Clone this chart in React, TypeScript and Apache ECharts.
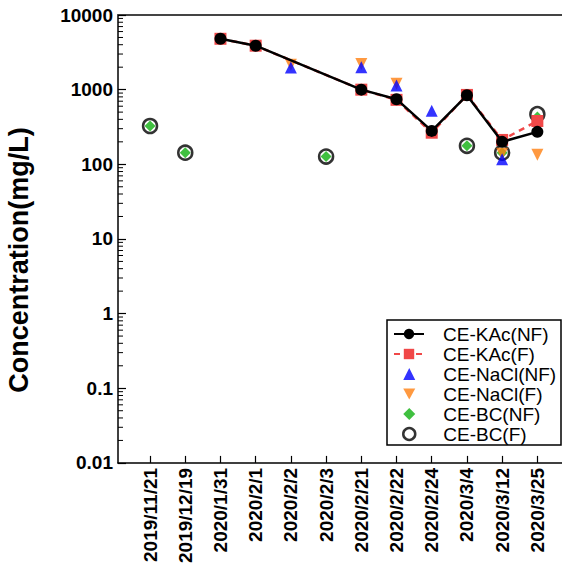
import React, { useEffect, useRef } from "react";
import * as echarts from "echarts";

const DATES = [
  "2019/11/21", "2019/12/19", "2020/1/31", "2020/2/1", "2020/2/2", "2020/2/3",
  "2020/2/21", "2020/2/22", "2020/2/24", "2020/3/4", "2020/3/12", "2020/3/25",
];

// Concentration (mg/L) per date index; null = no value
const KAC_NF = [null, null, 4800, 3880, null, null, 1000, 745, 280, 840, 200, 272];
const KAC_F = [null, null, 4800, 3880, null, null, 1000, 730, 265, 850, 212, 380];
const NACL_NF = [null, null, null, null, 1980, null, 2000, 1140, 520, null, 117, null];
const NACL_F = [null, null, null, null, 2150, null, 2200, 1200, null, null, 138, 134];
const BC_NF = [326, 143, null, null, null, 127, null, null, null, 177, 143, 430];
const BC_F = [326, 143, null, null, null, 127, null, null, null, 177, 143, 470];

const LINE_NAMES = ["CE-KAc(NF)", "CE-KAc(F)"];
const MARK_NAMES = ["CE-NaCl(NF)", "CE-NaCl(F)", "CE-BC(NF)", "CE-BC(F)"];

const Y_TITLE = "Concentration(mg/L)";
const Y_MIN = 0.01;
const Y_MAX = 10000;
const DECADES = [0.01, 0.1, 1, 10, 100, 1000];
const MINOR_MULTS = [2, 3, 4, 5, 6, 7, 8, 9];
const X_MIN = -0.91;
const X_MAX = 11.7;

const FONT = '"Liberation Sans", Arial, sans-serif';
const DOWN_TRIANGLE = "path://M0,0 L12,0 L6,11 Z";

const toPairs = (arr: (number | null)[]) =>
  arr.map((v, i) => (v == null ? null : [i, v])).filter((p) => p !== null) as number[][];

export default function App() {
  const ref = useRef<HTMLDivElement>(null);
  useEffect(() => {
    if (!ref.current) return;
    const chart = echarts.init(ref.current, undefined, { renderer: "svg" });
    const idx = DATES.map((_, i) => i);
    const minorTicks: number[][] = [];
    DECADES.forEach((d) => MINOR_MULTS.forEach((m) => minorTicks.push([X_MIN, d * m])));

    const legendText = (pad: number) => ({
      fontSize: 19,
      fontFamily: FONT,
      color: "#000",
      lineHeight: 20,
      padding: [0, 0, 0, pad],
    });

    const markLegend = MARK_NAMES.map((n) => {
      if (n === "CE-NaCl(F)") return { name: n, icon: DOWN_TRIANGLE };
      if (n === "CE-BC(F)")
        return { name: n, itemStyle: { color: "#fff", borderColor: "#000", borderWidth: 2.5 } };
      return { name: n };
    });

    chart.setOption({
      animation: false,
      backgroundColor: "#fff",
      grid: { left: 118, top: 15, right: 0, bottom: 99 },
      graphic: [
        {
          type: "text",
          x: 19,
          y: 260,
          rotation: Math.PI / 2,
          style: {
            text: Y_TITLE,
            font: `bold 27px ${FONT}`,
            fill: "#000",
            textAlign: "center",
            textVerticalAlign: "middle",
          },
        },
        {
          type: "rect",
          x: 387,
          y: 320,
          z: 10,
          shape: { width: 174, height: 125 },
          style: { fill: "rgba(0,0,0,0)", stroke: "#000", lineWidth: 1.5 },
        },
      ],
      legend: [
        {
          left: 393,
          top: 324,
          orient: "vertical",
          padding: 0,
          itemGap: 0,
          itemWidth: 30,
          itemHeight: 13,
          textStyle: legendText(14),
          data: LINE_NAMES,
        },
        {
          left: 402,
          top: 364,
          orient: "vertical",
          padding: 0,
          itemGap: 0,
          itemWidth: 12,
          itemHeight: 12,
          textStyle: legendText(23),
          data: markLegend,
        },
      ],
      xAxis: [
        {
          type: "value",
          min: X_MIN,
          max: X_MAX,
          position: "bottom",
          splitLine: { show: false },
          axisLine: { show: true, onZero: false, lineStyle: { color: "#000", width: 1.5 } },
          axisTick: { show: true, inside: true, length: 7, customValues: idx, lineStyle: { color: "#000", width: 1.2 } },
          axisLabel: {
            customValues: idx,
            rotate: 90,
            margin: 5,
            fontSize: 19,
            fontWeight: "bold",
            fontFamily: FONT,
            color: "#000",
            formatter: (v: number) => DATES[Math.round(v)] ?? "",
          },
        },
        {
          type: "value",
          min: X_MIN,
          max: X_MAX,
          position: "top",
          splitLine: { show: false },
          axisLine: { show: true, onZero: false, lineStyle: { color: "#444", width: 2 } },
          axisTick: { show: false },
          axisLabel: { show: false },
        },
      ],
      yAxis: {
        type: "log",
        logBase: 10,
        min: Y_MIN,
        max: Y_MAX,
        splitLine: { show: false },
        axisLine: { show: true, onZero: false, lineStyle: { color: "#000", width: 1.5 } },
        axisTick: { show: true, inside: true, length: 8, lineStyle: { color: "#000", width: 1.2 } },
        axisLabel: {
          fontSize: 19,
          fontWeight: "bold",
          fontFamily: FONT,
          color: "#000",
          margin: 5,
          formatter: (v: number) => String(v),
        },
      },
      series: [
        {
          type: "custom",
          name: "minorTicks",
          silent: true,
          z: 1,
          clip: false,
          data: minorTicks,
          renderItem: (_p: any, api: any) => {
            const pt = api.coord([api.value(0), api.value(1)]);
            return {
              type: "line",
              shape: { x1: pt[0], y1: pt[1], x2: pt[0] + 5, y2: pt[1] },
              style: { stroke: "#000", lineWidth: 1 },
            };
          },
        },
        {
          name: "CE-BC(F)",
          type: "scatter",
          z: 2,
          symbol: "circle",
          symbolSize: 14,
          itemStyle: { color: "#fff", borderColor: "#000", borderWidth: 2.5 },
          data: toPairs(BC_F),
        },
        {
          name: "CE-BC(NF)",
          type: "scatter",
          z: 3,
          symbol: "diamond",
          symbolSize: 11,
          itemStyle: { color: "#10b010" },
          data: toPairs(BC_NF),
        },
        {
          name: "CE-NaCl(F)",
          type: "scatter",
          z: 4,
          symbol: "triangle",
          symbolRotate: 180,
          symbolSize: 12,
          itemStyle: { color: "#ff8010" },
          data: toPairs(NACL_F),
        },
        {
          name: "CE-NaCl(NF)",
          type: "scatter",
          z: 5,
          symbol: "triangle",
          symbolSize: 12,
          itemStyle: { color: "#0000ff" },
          data: toPairs(NACL_NF),
        },
        {
          name: "CE-KAc(F)",
          type: "line",
          z: 6,
          symbol: "rect",
          symbolSize: 12,
          showAllSymbol: true,
          itemStyle: { color: "#f04848" },
          lineStyle: { color: "#f04848", width: 2.5, type: [6, 5] },
          data: toPairs(KAC_F),
        },
        {
          name: "CE-KAc(NF)",
          type: "line",
          z: 7,
          symbol: "circle",
          symbolSize: 12,
          showAllSymbol: true,
          itemStyle: { color: "#000" },
          lineStyle: { color: "#000", width: 2.5 },
          data: toPairs(KAC_NF),
        },
      ],
    });
    return () => chart.dispose();
  }, []);
  return <div ref={ref} style={{ position: "fixed", left: 0, top: 0, width: 562, height: 566 }} />;
}
